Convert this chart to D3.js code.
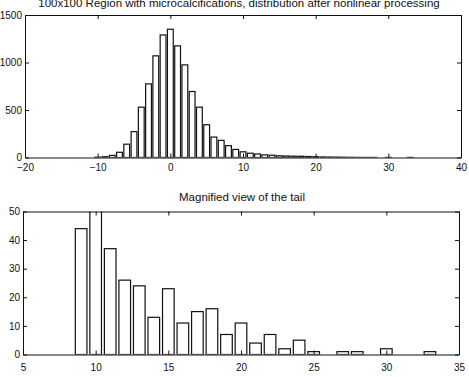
<!DOCTYPE html>
<html>
<head>
<meta charset="utf-8">
<script src="https://cdn.jsdelivr.net/npm/d3@7"></script>
<style>
  body { margin: 0; background: #fff; }
  svg { display: block; }
  text { font-family: "Liberation Sans", Arial, Helvetica, sans-serif; fill: #111; }
</style>
</head>
<body>
<div id="chart"></div>
<script>
(function() {

  "use strict";

  // full distribution (bin centres and counts)
  var fullBins = [-10, -9, -8, -7, -6, -5, -4, -3, -2, -1, 0, 1, 2, 3, 4, 5, 6, 7, 8, 9,
    10, 11, 12, 13, 14, 15, 16, 17, 18, 19, 20, 21, 22, 23, 24, 25, 26, 27, 28, 30, 33];
  var fullCounts = [3, 8, 22, 55, 140, 272, 530, 775, 1070, 1290, 1350, 1175, 975, 695, 530, 345, 215, 180, 125, 85,
    60, 45, 37, 28, 24, 18, 16, 14, 13, 10, 8, 6, 5, 4, 3, 2, 1, 1, 1, 1, 1];

  // magnified tail
  var tailBins = [9, 10, 11, 12, 13, 14, 15, 16, 17, 18, 19, 20, 21, 22, 23, 24, 25, 27, 28, 30, 33];
  var tailCounts = [44, 60, 37, 26, 24, 13, 23, 11, 15, 16, 7, 11, 4, 7, 2, 5, 1, 1, 1, 2, 1];

  var topTitle = '100x100 Region with microcalcifications, distribution after nonlinear processing';
  var bottomTitle = 'Magnified view of the tail';

  var topXTicks = [-20, -10, 0, 10, 20, 30, 40];
  var topYTicks = [0, 500, 1000, 1500];
  var bottomXTicks = [5, 10, 15, 20, 25, 30, 35];
  var bottomYTicks = [0, 10, 20, 30, 40, 50];

  var width = 469;
  var height = 377;
  var fmt = d3.format('d');

  var svg = d3.select('#chart').append('svg')
    .attr('width', width)
    .attr('height', height);

  drawPanel({
    id: 'top',
    left: 25, right: 461, top: 15, bottom: 157.5,
    xDomain: [-20, 40], yDomain: [0, 1500],
    xTicks: topXTicks, yTicks: topYTicks,
    bins: fullBins, counts: fullCounts,
    xPad: 6.5
  });

  drawPanel({
    id: 'bottom',
    left: 23, right: 459, top: 211.5, bottom: 354.5,
    xDomain: [5, 35], yDomain: [0, 50],
    xTicks: bottomXTicks, yTicks: bottomYTicks,
    bins: tailBins, counts: tailCounts,
    xPad: 9.5
  });

  svg.append('text')
    .attr('x', 239)
    .attr('y', 7.3)
    .attr('text-anchor', 'middle')
    .style('font-size', '11.5px')
    .text(topTitle);

  svg.append('text')
    .attr('x', 242)
    .attr('y', 201)
    .attr('text-anchor', 'middle')
    .style('font-size', '11.5px')
    .text(bottomTitle);

  function drawPanel(p) {
    var x = d3.scaleLinear().domain(p.xDomain).range([p.left, p.right]);
    var y = d3.scaleLinear().domain(p.yDomain).range([p.bottom, p.top]);

    svg.append('clipPath')
      .attr('id', 'clip-' + p.id)
      .append('rect')
      .attr('x', p.left)
      .attr('y', p.top)
      .attr('width', p.right - p.left)
      .attr('height', p.bottom - p.top);

    var data = p.bins.map(function(b, i) {
      return { bin: b, count: p.counts[i] };
    });

    svg.append('g')
      .attr('clip-path', 'url(#clip-' + p.id + ')')
      .selectAll('rect')
      .data(data)
      .enter()
      .append('rect')
      .attr('x', function(d) { return x(d.bin - 0.4); })
      .attr('width', function(d) { return x(d.bin + 0.4) - x(d.bin - 0.4); })
      .attr('y', function(d) { return y(d.count); })
      .attr('height', function(d) { return y(0) - y(d.count); })
      .attr('fill', '#fff')
      .attr('stroke', '#111')
      .attr('stroke-width', 1.2);

    var bottomAxis = d3.axisBottom(x).tickValues(p.xTicks).tickSize(-4).tickSizeOuter(0)
      .tickFormat(fmt).tickPadding(p.xPad);
    var topAxis = d3.axisTop(x).tickValues(p.xTicks).tickSize(-4).tickSizeOuter(0)
      .tickFormat('');
    var leftAxis = d3.axisLeft(y).tickValues(p.yTicks).tickSize(-4).tickSizeOuter(0)
      .tickFormat(fmt).tickPadding(3);
    var rightAxis = d3.axisRight(y).tickValues(p.yTicks).tickSize(-4).tickSizeOuter(0)
      .tickFormat('');

    var gb = svg.append('g').attr('transform', 'translate(0,' + p.bottom + ')').call(bottomAxis);
    var gt = svg.append('g').attr('transform', 'translate(0,' + p.top + ')').call(topAxis);
    var gl = svg.append('g').attr('transform', 'translate(' + p.left + ',0)').call(leftAxis);
    var gr = svg.append('g').attr('transform', 'translate(' + p.right + ',0)').call(rightAxis);

    [gb, gt, gl, gr].forEach(function(g) {
      g.selectAll('path, line').attr('stroke', '#111').attr('stroke-width', 1);
      g.selectAll('text')
        .style('font-family', '"Liberation Sans", Arial, Helvetica, sans-serif')
        .style('font-size', '10px')
        .attr('fill', '#111');
    });
  }
})();
</script>
</body>
</html>
